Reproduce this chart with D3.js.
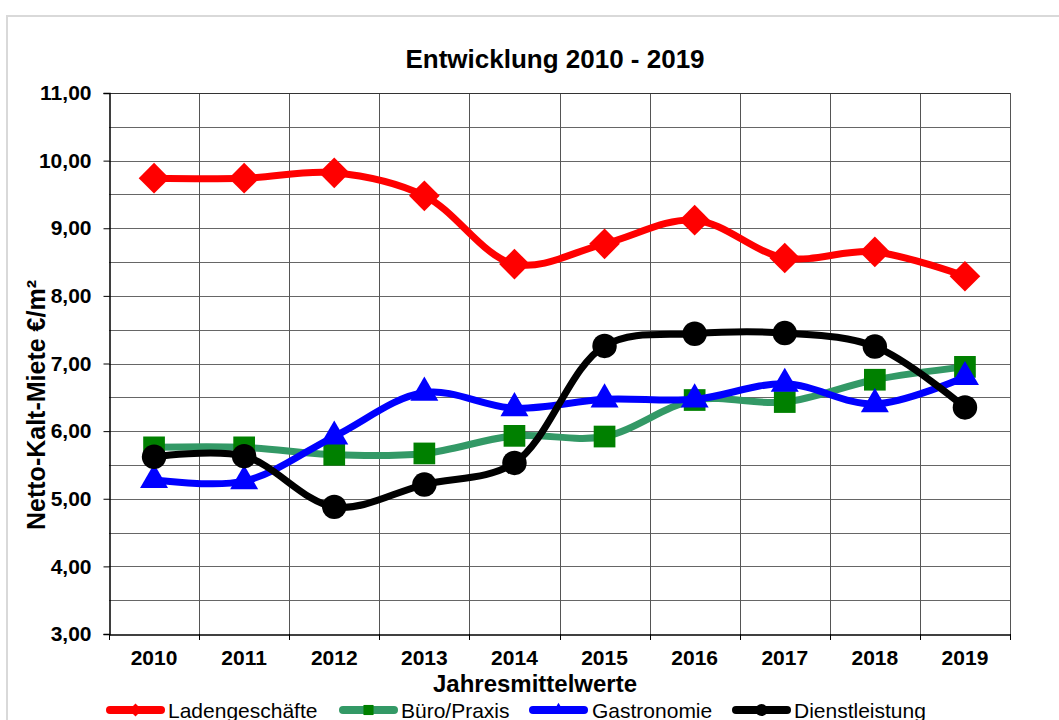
<!DOCTYPE html>
<html><head><meta charset="utf-8">
<script src="https://cdn.jsdelivr.net/npm/d3@7"></script>
<style>body{margin:0;background:#fff;} svg{display:block;font-family:"Liberation Sans",Arial,sans-serif;}</style>
</head><body>
<script>
const years = ["2010","2011","2012","2013","2014","2015","2016","2017","2018","2019"];
const ladengeschaefte = [9.74,9.74,9.82,9.48,8.47,8.77,9.12,8.56,8.65,8.29];
const bueroPraxis   = [5.76,5.76,5.65,5.67,5.93,5.92,6.46,6.43,6.76,6.95];
const gastronomie   = [5.28,5.26,5.92,6.57,6.34,6.47,6.47,6.70,6.40,6.80];
const dienstleistung= [5.62,5.63,4.88,5.21,5.53,7.26,7.44,7.45,7.25,6.35];
const seriesNames = ["Ladengeschäfte","Büro/Praxis","Gastronomie","Dienstleistung"];
const yTicks = [3,4,5,6,7,8,9,10,11];

const W=1059,H=720;
const svg=d3.select("body").append("svg").attr("width",W).attr("height",H);
const L=109,R=1010,T=93,B=634;
const x=d3.scaleBand().domain(years).range([L,R]).padding(0);
const y=d3.scaleLinear().domain([3,11]).range([B,T]);
const loc=d3.formatLocale({decimal:",",thousands:".",grouping:[3],currency:["","€"]});
const fmt=loc.format(".2f");

// outer frame
svg.append("rect").attr("x",7).attr("y",16).attr("width",1100).attr("height",800)
  .attr("fill","none").attr("stroke","#d9d9d9").attr("stroke-width",2);

// title
svg.append("text").attr("x",555).attr("y",68).attr("text-anchor","middle")
  .attr("font-size",26).attr("font-weight","bold").text("Entwicklung 2010 - 2019");

// grid
const g=svg.append("g");
const hgrid=d3.range(3.5,11,0.5);
g.selectAll("line.h").data(hgrid).join("line").attr("class","h")
  .attr("x1",L).attr("x2",R).attr("y1",d=>Math.round(y(d))+0.5).attr("y2",d=>Math.round(y(d))+0.5)
  .attr("stroke","#666").attr("stroke-width",1);
const bounds=years.slice(1).map(d=>x(d)).concat([R]);
g.selectAll("line.v").data(bounds).join("line").attr("class","v")
  .attr("x1",d=>Math.round(d)+0.5).attr("x2",d=>Math.round(d)+0.5).attr("y1",T).attr("y2",B)
  .attr("stroke","#555").attr("stroke-width",1);
g.append("line").attr("x1",L).attr("x2",R).attr("y1",T+0.5).attr("y2",T+0.5).attr("stroke","#333");

// y axis
const ya=svg.append("g").attr("transform",`translate(${L+0.5},0)`)
  .call(d3.axisLeft(y).tickValues(yTicks).tickFormat(fmt).tickSize(6).tickPadding(12));
ya.select(".domain").attr("stroke","#000").attr("stroke-width",1.5);
ya.selectAll(".tick line").attr("stroke","#000");
ya.selectAll("text").attr("font-size",21).attr("font-weight","bold").attr("fill","#000")
  .attr("font-family","'Liberation Sans',Arial,sans-serif");

// x axis
const xa=svg.append("g").attr("transform",`translate(0,${B+0.5})`)
  .call(d3.axisBottom(x).tickSize(0).tickPadding(16));
xa.select(".domain").attr("stroke","#000").attr("stroke-width",1.5);
xa.selectAll("text").attr("font-size",21).attr("font-weight","bold").attr("fill","#000")
  .attr("font-family","'Liberation Sans',Arial,sans-serif");
svg.selectAll("line.xt").data([L].concat(bounds)).join("line").attr("class","xt")
  .attr("x1",d=>Math.round(d)+0.5).attr("x2",d=>Math.round(d)+0.5).attr("y1",B).attr("y2",B+6)
  .attr("stroke","#000");

// axis titles
svg.append("text").attr("x",535).attr("y",692).attr("text-anchor","middle")
  .attr("font-size",24).attr("font-weight","bold").text("Jahresmittelwerte");
svg.append("text").attr("transform","translate(45,405) rotate(-90)").attr("text-anchor","middle")
  .attr("font-size",25).attr("font-weight","bold").text("Netto-Kalt-Miete €/m²");

// series
const series=[
  {name:seriesNames[0],vals:ladengeschaefte,line:"#FF0000",fill:"#FF0000",sym:d3.symbolDiamond2,size:600},
  {name:seriesNames[1],vals:bueroPraxis,line:"#339966",fill:"#008000",sym:d3.symbolSquare2,size:600},
  {name:seriesNames[2],vals:gastronomie,line:"#0000FF",fill:"#0000FF",sym:d3.symbolTriangle2,size:560},
  {name:seriesNames[3],vals:dienstleistung,line:"#000000",fill:"#000000",sym:d3.symbolCircle,size:470}
];
const cx=d=>x(d)+x.bandwidth()/2;
const lineGen=d3.line().x(d=>cx(d[0])).y(d=>y(d[1])).curve(d3.curveCatmullRom.alpha(0.5));

series.forEach(s=>{
  const pts=years.map((yr,i)=>[yr,s.vals[i]]);
  const gs=svg.append("g");
  gs.append("path").datum(pts).attr("d",lineGen).attr("fill","none").attr("stroke",s.line)
    .attr("stroke-width",7).attr("stroke-linejoin","round").attr("stroke-linecap","round");
  gs.selectAll("path.m").data(pts).join("path").attr("class","m")
    .attr("transform",d=>`translate(${cx(d[0])},${y(d[1])})`)
    .attr("d",d3.symbol().type(s.sym).size(s.size)()).attr("fill",s.fill);
});

// legend
const legX=[107,340,530,733];
series.forEach((s,i)=>{
  const lg=svg.append("g").attr("transform",`translate(${legX[i]},710)`);
  lg.append("line").attr("x1",3).attr("x2",54).attr("y1",0).attr("y2",0).attr("stroke",s.line)
    .attr("stroke-width",8).attr("stroke-linecap","round");
  lg.append("path").attr("transform","translate(28.5,0)").attr("d",d3.symbol().type(s.sym).size(s.sym===d3.symbolSquare2?130:110)()).attr("fill",s.fill);
  lg.append("text").attr("x",(i===2?62:61)).attr("y",7.5).attr("font-size",21).text(s.name);
});
</script>
</body></html>
